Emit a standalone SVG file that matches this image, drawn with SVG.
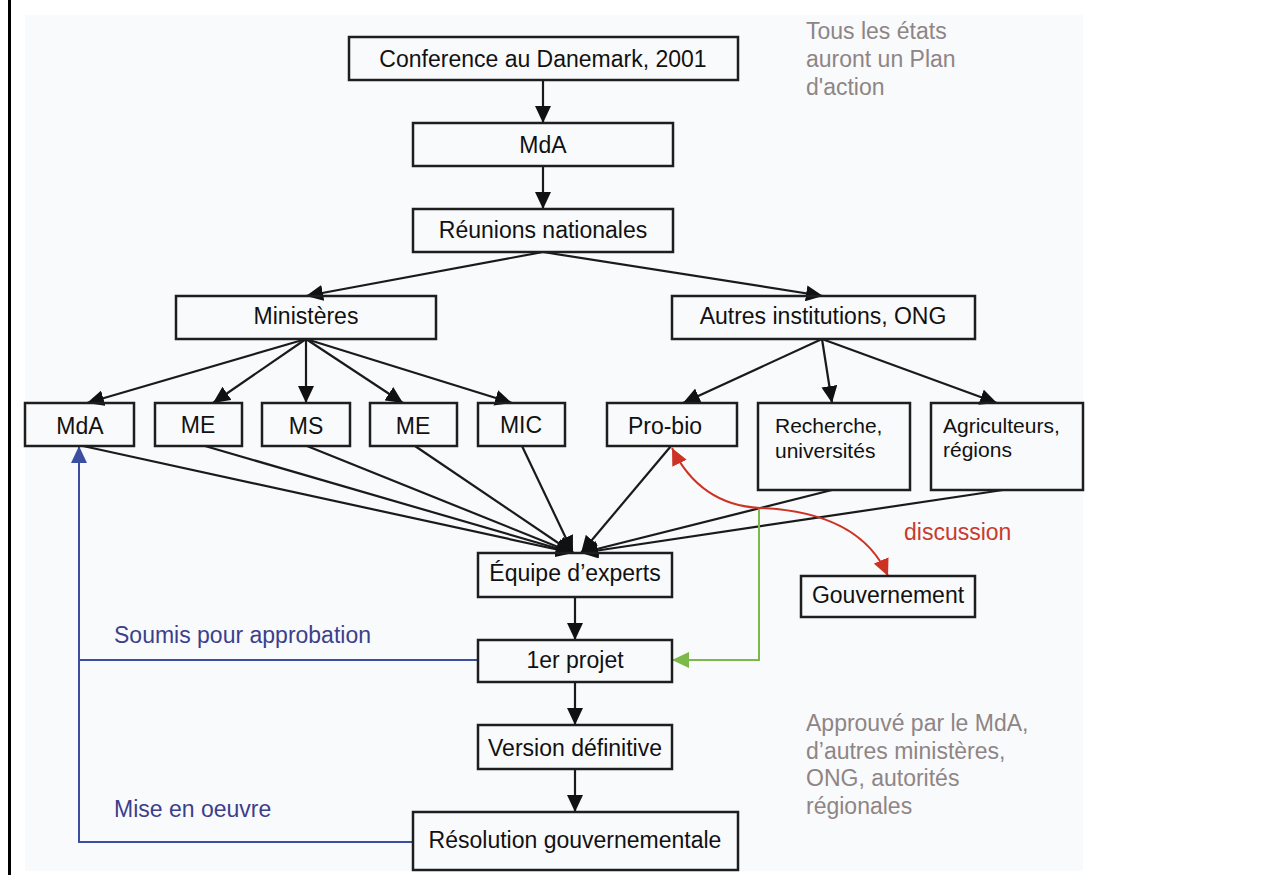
<svg xmlns="http://www.w3.org/2000/svg" width="1278" height="875" viewBox="0 0 1278 875">
<style>
.box{fill:none;stroke:#1e1e1e;stroke-width:2.5}
.t{font-family:"Liberation Sans",Arial,sans-serif;font-size:23px;fill:#111;text-anchor:middle}
.ts{font-family:"Liberation Sans",Arial,sans-serif;font-size:21px;fill:#111}
.gray{font-family:"Liberation Sans",Arial,sans-serif;font-size:23px;fill:#8e8585}
.blue{font-family:"Liberation Sans",Arial,sans-serif;font-size:23px;fill:#3c3f8c}
.red{font-family:"Liberation Sans",Arial,sans-serif;font-size:23px;fill:#c83a2e}
.c{fill:none;stroke:#1a1a1a;stroke-width:2.2;marker-end:url(#ab)}
</style>
<defs>
<marker id="ab" markerUnits="userSpaceOnUse" markerWidth="18" markerHeight="16" refX="17" refY="8" orient="auto"><path d="M0,0 L17,8 L0,16 z" fill="#111"/></marker>
<marker id="abl" markerUnits="userSpaceOnUse" markerWidth="18" markerHeight="16" refX="17" refY="8" orient="auto"><path d="M0,0 L17,8 L0,16 z" fill="#3b4ea0"/></marker>
<marker id="ag" markerUnits="userSpaceOnUse" markerWidth="18" markerHeight="16" refX="17" refY="8" orient="auto"><path d="M0,0 L17,8 L0,16 z" fill="#7cb84a"/></marker>
<marker id="ar" markerUnits="userSpaceOnUse" markerWidth="18" markerHeight="16" refX="17" refY="8" orient="auto-start-reverse"><path d="M0,0 L17,8 L0,16 z" fill="#cc3325"/></marker>
</defs>
<rect x="0" y="0" width="1278" height="875" fill="#ffffff"/>
<rect x="25" y="15" width="1058" height="856" fill="#f9fafc"/>
<line x1="9.5" y1="0" x2="9.5" y2="875" stroke="#000" stroke-width="3"/>

<g id="connectors">
<line class="c" x1="543" y1="80" x2="543" y2="123"/>
<line class="c" x1="543" y1="166" x2="543" y2="209"/>
<line class="c" x1="543" y1="252" x2="306" y2="296"/>
<line class="c" x1="543" y1="252" x2="823" y2="296"/>
<line class="c" x1="306" y1="339" x2="87" y2="403"/>
<line class="c" x1="306" y1="339" x2="213" y2="403"/>
<line class="c" x1="306" y1="339" x2="306" y2="403"/>
<line class="c" x1="306" y1="339" x2="403" y2="403"/>
<line class="c" x1="306" y1="339" x2="512" y2="403"/>
<line class="c" x1="822" y1="339" x2="683" y2="403"/>
<line class="c" x1="822" y1="339" x2="832" y2="403"/>
<line class="c" x1="822" y1="339" x2="997" y2="403"/>
<line class="c" x1="83" y1="446" x2="573" y2="553"/>
<line class="c" x1="205" y1="446" x2="573" y2="553"/>
<line class="c" x1="307" y1="446" x2="573" y2="553"/>
<line class="c" x1="415" y1="446" x2="573" y2="553"/>
<line class="c" x1="522" y1="446" x2="573" y2="553"/>
<line class="c" x1="671" y1="446" x2="581" y2="553"/>
<line class="c" x1="832" y1="490" x2="581" y2="553"/>
<line class="c" x1="1003" y1="490" x2="581" y2="553"/>
<line class="c" x1="575" y1="597" x2="575" y2="640"/>
<line class="c" x1="575" y1="682" x2="575" y2="725"/>
<line class="c" x1="575" y1="769" x2="575" y2="812"/>
<polyline points="478,660 79,660 79,446" fill="none" stroke="#3b4ea0" stroke-width="2" marker-end="url(#abl)"/>
<polyline points="413,842 79,842 79,660" fill="none" stroke="#3b4ea0" stroke-width="2"/>
<polyline points="759,508 759,660 672,660" fill="none" stroke="#7cb84a" stroke-width="2" marker-end="url(#ag)"/>
<path d="M672,448 Q700,505 760,508 Q860,512 888,576" fill="none" stroke="#cc3325" stroke-width="2" marker-start="url(#ar)" marker-end="url(#ar)"/>
</g>

<g id="n-conf"><rect class="box" x="349" y="37" width="389" height="43"/><text class="t" x="543" y="67">Conference au Danemark, 2001</text></g>
<g id="n-mda-top"><rect class="box" x="413" y="123" width="260" height="43"/><text class="t" x="543" y="153">MdA</text></g>
<g id="n-reunions"><rect class="box" x="413" y="209" width="260" height="43"/><text class="t" x="543" y="238">Réunions nationales</text></g>
<g id="n-ministeres"><rect class="box" x="176" y="296" width="260" height="43"/><text class="t" x="306" y="324">Ministères</text></g>
<g id="n-autres"><rect class="box" x="672" y="296" width="303" height="43"/><text class="t" x="823" y="324">Autres institutions, ONG</text></g>
<g id="n-mda"><rect class="box" x="25" y="403" width="109" height="43"/><text class="t" x="80" y="434">MdA</text></g>
<g id="n-me1"><rect class="box" x="155" y="403" width="87" height="43"/><text class="t" x="198" y="433">ME</text></g>
<g id="n-ms"><rect class="box" x="262" y="403" width="88" height="43"/><text class="t" x="306" y="434">MS</text></g>
<g id="n-me2"><rect class="box" x="370" y="403" width="87" height="43"/><text class="t" x="413" y="434">ME</text></g>
<g id="n-mic"><rect class="box" x="478" y="403" width="87" height="43"/><text class="t" x="521" y="433">MIC</text></g>
<g id="n-probio"><rect class="box" x="607" y="403" width="130" height="43"/><text class="t" x="665" y="434">Pro-bio</text></g>
<g id="n-recherche"><rect class="box" x="758" y="403" width="152" height="87"/><text class="ts" x="775" y="433">Recherche,</text><text class="ts" x="775" y="458">universités</text></g>
<g id="n-agri"><rect class="box" x="931" y="403" width="152" height="87"/><text class="ts" x="943" y="433">Agriculteurs,</text><text class="ts" x="943" y="457">régions</text></g>
<g id="n-equipe"><rect class="box" x="478" y="553" width="194" height="44"/><text class="t" x="575" y="581">Équipe d’experts</text></g>
<g id="n-gouv"><rect class="box" x="801" y="576" width="174" height="41"/><text class="t" x="888" y="603">Gouvernement</text></g>
<g id="n-projet"><rect class="box" x="478" y="640" width="194" height="42"/><text class="t" x="575" y="668">1er projet</text></g>
<g id="n-version"><rect class="box" x="478" y="725" width="194" height="44"/><text class="t" x="575" y="756">Version définitive</text></g>
<g id="n-resolution"><rect class="box" x="413" y="812" width="325" height="58"/><text class="t" x="575" y="848">Résolution gouvernementale</text></g>

<g id="labels">
<text class="gray" x="806" y="39">Tous les états</text>
<text class="gray" x="806" y="67">auront un Plan</text>
<text class="gray" x="806" y="95">d'action</text>
<text class="gray" x="806" y="731">Approuvé par le MdA,</text>
<text class="gray" x="806" y="759">d’autres ministères,</text>
<text class="gray" x="806" y="786">ONG, autorités</text>
<text class="gray" x="806" y="814">régionales</text>
<text class="blue" x="114" y="643">Soumis pour approbation</text>
<text class="blue" x="114" y="817">Mise en oeuvre</text>
<text class="red" x="904" y="540">discussion</text>
</g>
</svg>
